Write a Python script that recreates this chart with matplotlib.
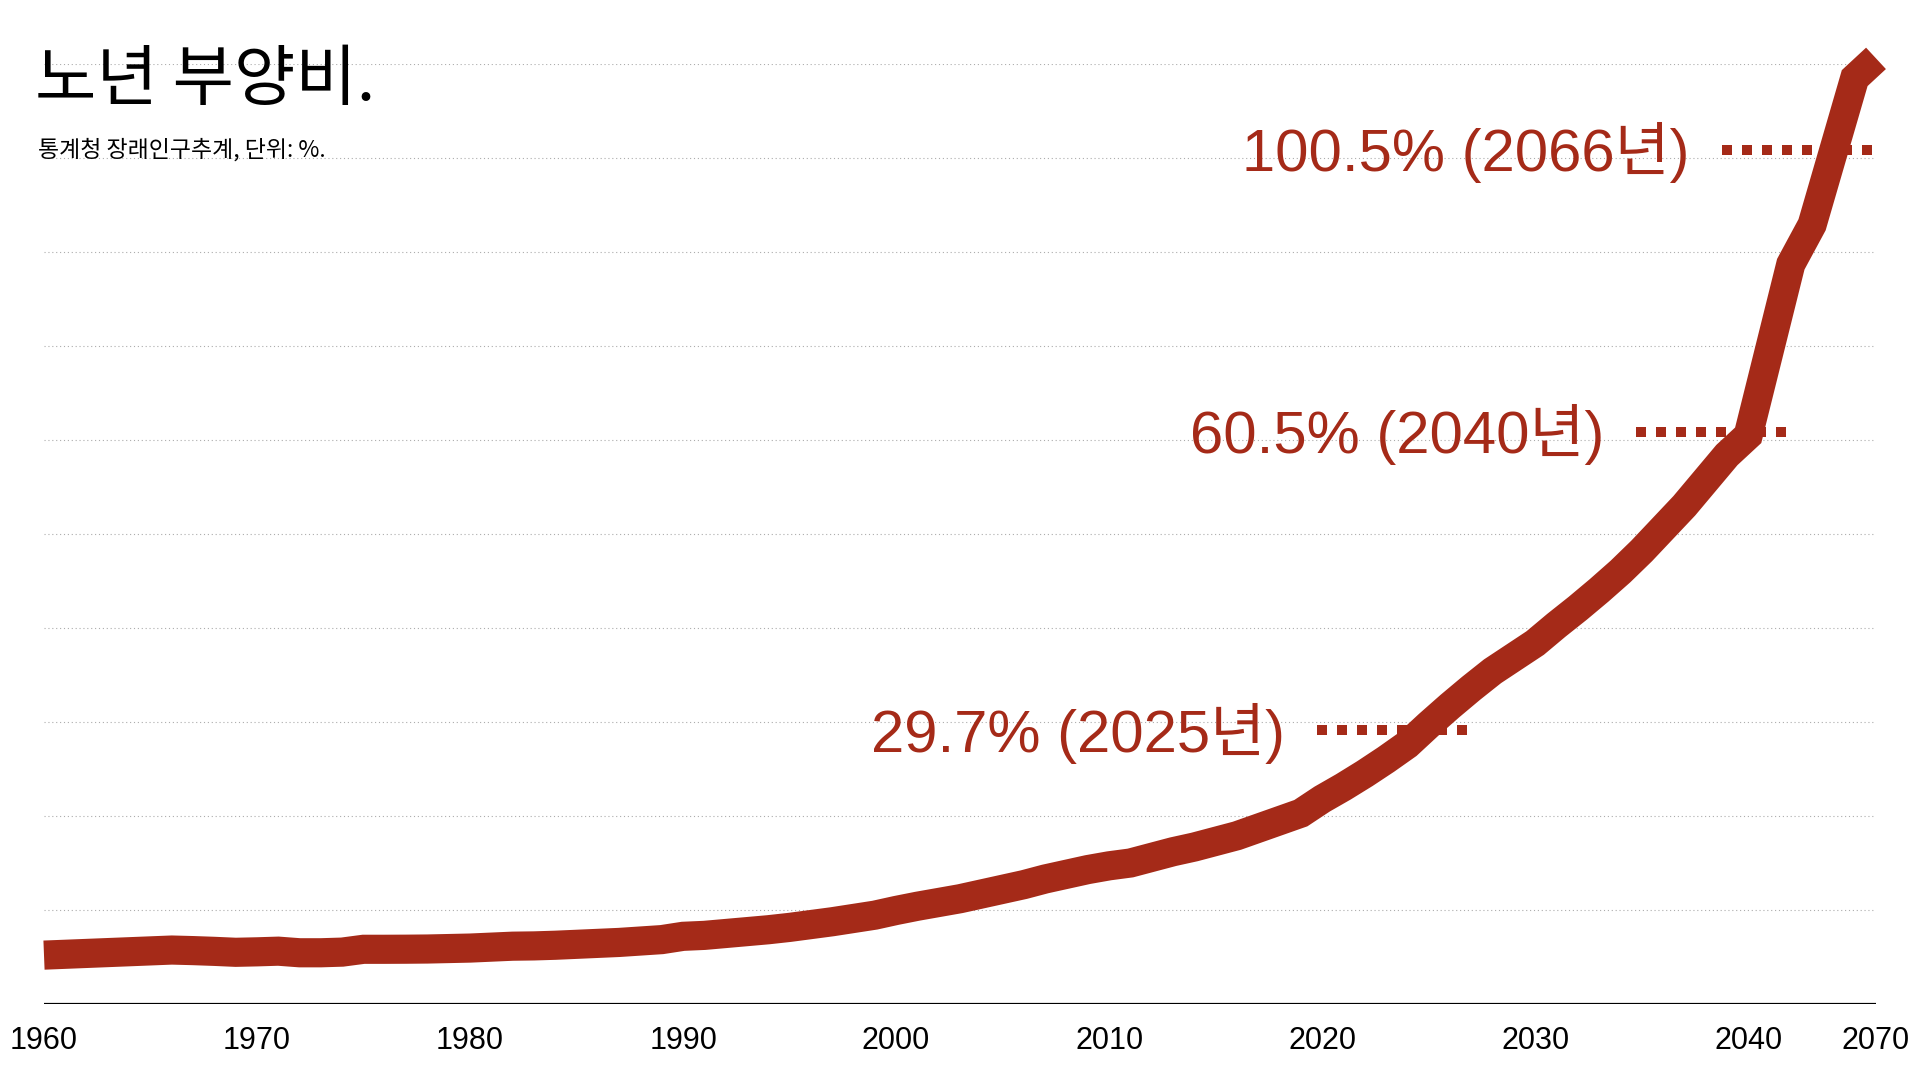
import matplotlib
matplotlib.use("Agg")
import matplotlib.pyplot as plt

# 노년 부양비 (통계청 장래인구추계)
years = list(range(1960, 2041)) + [2045, 2050, 2055, 2060, 2065, 2070]
ratio = [
    5.2, 5.29, 5.38, 5.47, 5.56, 5.65, 5.74, 5.68, 5.6, 5.5,        # 1960-69
    5.55, 5.62, 5.45, 5.45, 5.52, 5.82, 5.82, 5.83, 5.85, 5.9,      # 1970-79
    5.95, 6.05, 6.15, 6.18, 6.25, 6.35, 6.45, 6.55, 6.7, 6.85,      # 1980-89
    7.2, 7.3, 7.5, 7.7, 7.9, 8.15, 8.45, 8.75, 9.1, 9.45,           # 1990-99
    9.95, 10.4, 10.8, 11.2, 11.7, 12.2, 12.7, 13.3, 13.8, 14.3,     # 2000-09
    14.7, 15.0, 15.6, 16.2, 16.7, 17.3, 17.9, 18.7, 19.5, 20.3,     # 2010-19
    21.8, 23.1, 24.5, 26.0, 27.6, 29.7, 31.7, 33.6, 35.4, 36.9,     # 2020-29
    38.4, 40.3, 42.1, 44.0, 46.0, 48.2, 50.6, 53.0, 55.7, 58.4,     # 2030-39
    60.5,                                                           # 2040
    69.6, 78.7, 82.9, 90.7, 98.5, 100.6,                            # 2045-2070
]
tick_years = [1960, 1970, 1980, 1990, 2000, 2010, 2020, 2030, 2040, 2070]
grid_vals = [10, 20, 30, 40, 50, 60, 70, 80, 90, 100]

# labelled points: where the dotted marker sits, and its text
ann_at = [2025, 2040, 2060]
ann_level = [29.1, 60.9, 90.9]
ann_text = ["29.7% (2025년)", "60.5% (2040년)", "100.5% (2066년)"]

red = "#a52a18"
ann_font = ["Liberation Sans", "Noto Sans CJK KR"]

fig = plt.figure(figsize=(19.2, 10.8), dpi=100)
ax = fig.add_axes([44 / 1920, 76 / 1080, 1832 / 1920, 940 / 1080])

x = list(range(len(years)))

for g in grid_vals:
    ax.axhline(g, color="#acacac", lw=0.8, ls=(0, (1, 2.5)), zorder=0)
ax.axhline(0, color="black", lw=1.6, zorder=1)

ax.plot(x, ratio, color=red, lw=21, solid_capstyle="butt",
        solid_joinstyle="miter", clip_on=False, zorder=3)

for yr, lv, txt in zip(ann_at, ann_level, ann_text):
    i = years.index(yr)
    ax.plot([i - 5.25, i + 1.8], [lv, lv], color=red, lw=7.2,
            ls=(0, (1, 1)), dash_capstyle="butt", zorder=4)
    ax.annotate(txt, xy=(i - 5.25, lv), xytext=(-23, -15.5),
                textcoords="offset points", ha="right", va="baseline",
                fontsize=43, color=red, family=ann_font, zorder=5)

ax.set_xlim(0, len(years) - 1)
ax.set_ylim(0, 100)
ax.set_yticks([])
ax.set_xticks([years.index(t) for t in tick_years])
ax.set_xticklabels([str(t) for t in tick_years], family="Liberation Sans",
                   fontsize=22)
ax.tick_params(axis="x", length=0, pad=15.5)
for s in ax.spines.values():
    s.set_visible(False)

fig.text(0.018, 0.925, "노년 부양비.", fontsize=48, family="Noto Sans CJK KR",
         va="center", ha="left")
fig.text(0.0198, 0.861, "통계청 장래인구추계, 단위: %.", fontsize=16.5,
         family=["Noto Sans CJK KR", "DejaVu Sans"], va="center", ha="left")

fig.savefig("out.png", dpi=100)
